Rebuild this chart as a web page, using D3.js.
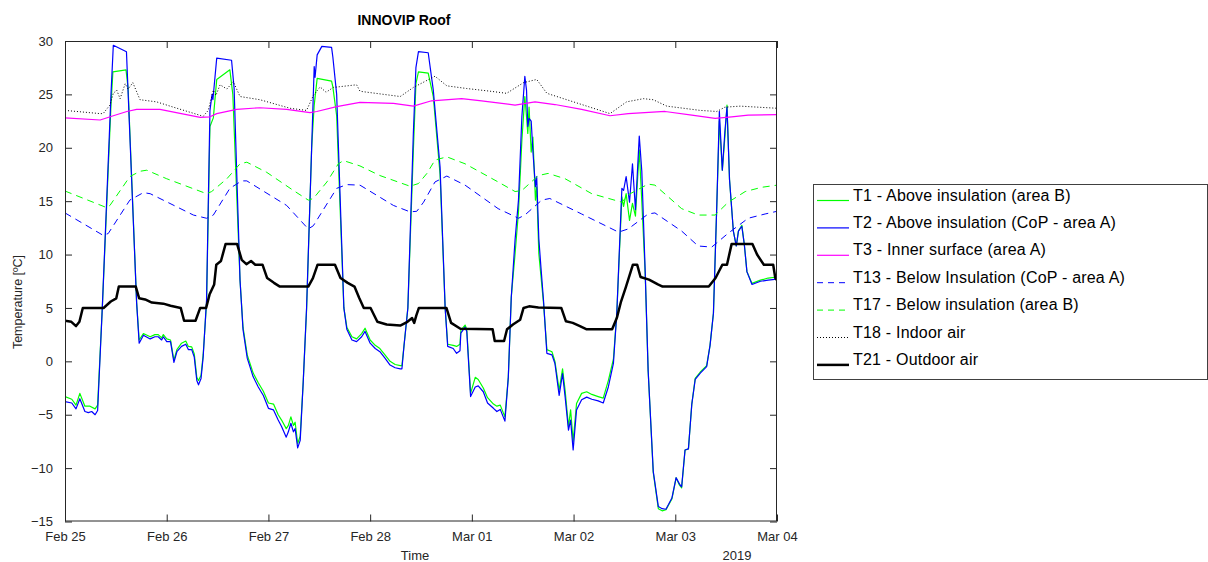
<!DOCTYPE html>
<html>
<head>
<meta charset="utf-8">
<script src="https://cdn.jsdelivr.net/npm/d3@7"></script>
<style>
  html, body { margin: 0; padding: 0; background: #fff; }
  svg { display: block; font-family: Arial, "Liberation Sans", Helvetica, sans-serif; }
</style>
</head>
<body>
<div id="chart"></div>
<script>
// ========================
// DATA (hours since Feb 25 2019 00:00, °C)
// ========================
const START = new Date(2019, 1, 25);
const END = new Date(2019, 2, 4);
const yTicks = [-15, -10, -5, 0, 5, 10, 15, 20, 25, 30];

const T1 = [[0,-3.3],[1.6,-3.55],[2.6,-4.1],[3.5,-3.0],[4.7,-4.2],[5.9,-4.2],[7.1,-4.45],[7.7,-4.1],
  [8.8,5],[10.85,24],[11.3,27.1],[14.4,27.3],[14.9,25.5],[16.9,5.5],[17.5,2.0],
  [18.5,2.6],[20.1,2.3],[21.2,2.5],[22.0,2.5],[22.8,2.2],[23.2,2.5],[24.0,2.1],[24.9,2.0],[25.7,0.1],[26.4,1.1],[27.5,1.7],[28.5,1.9],[29.1,1.4],[29.9,1.35],[30.5,0.7],[31.1,-1.5],[31.5,-1.8],[32.1,-1.3],[32.6,0.6],
  [33.4,5.5],[34.2,22],[35.0,22.8],[35.8,26.4],[38.9,27.3],[39.6,25],[41.3,7.6],[42.0,3.2],[43.0,0.6],
  [44.4,-1.1],[45.6,-2.0],[46.8,-2.8],[48.0,-3.9],[49.2,-4.0],[50.3,-5.0],[51.1,-5.5],[52.2,-6.3],[52.7,-6.0],[53.3,-5.2],[53.9,-6.0],[54.3,-5.7],[54.9,-7.7],[55.5,-7.0],
  [56.2,-2],[57.0,4.8],[58.2,20],[58.8,24],[59.5,26.5],[62.9,26.25],[63.2,25.7],[64.1,23],[65.8,5],[66.5,3.2],
  [67.7,2.3],[68.8,2.1],[70.0,2.6],[70.8,3.1],[72.0,2.0],[73.2,1.5],[74.3,1.2],[75.5,0.6],[76.7,0],[77.9,-0.3],[79.1,-0.4],[79.5,-0.4],
  [80.0,1.5],[80.9,5],[82.2,19.8],[82.8,26],[83.4,27.1],[85.7,27.0],[86.9,24.8],[88.5,17.5],[89.7,5],[90.3,1.6],
  [91.6,1.5],[92.4,1.4],[93.2,1.6],[93.4,2.9],[94.4,3.4],[94.8,3.0],[95.7,-3.0],[96.8,-1.5],[97.5,-1.7],[98.7,-2.5],[99.7,-3.4],[101.1,-4.0],[101.9,-4.2],[102.7,-4.1],[103.8,-5.2],
  [104.6,-1.5],[105.3,6],[106.2,10.1],[107.0,14],[107.8,20.7],[108.5,24.8],[108.9,22.9],[109.2,21.35],[109.5,23.8],[110.0,19.6],[110.4,21],[111.0,15.1],[111.3,16.35],[111.8,10.1],[112.3,8],[112.9,5.5],[113.7,1.1],
  [114.9,0.9],[115.6,0],[116.6,-2.7],[117.4,-0.7],[118.0,-2.7],[118.8,-6.1],[119.3,-4.55],[119.9,-7.5],[120.7,-3.95],[121.9,-3.0],[123.1,-2.85],[124.3,-3.1],[125.8,-3.3],[127.0,-3.45],[128.2,-1.8],[129.4,0.2],
  [130.2,4.5],[130.6,8.2],[131.4,15.4],[131.8,14.5],[132.4,15.7],[133.2,13.2],[133.9,14.8],[134.6,13.6],[135.5,19.8],[136.1,15],[136.9,8.2],[137.6,-0.9],[138.8,-10.4],[140.0,-13.8],[140.9,-14.0],[141.8,-13.9],[143.2,-12.9],[144.2,-10.9],[145.0,-11.6],[145.5,-11.85],[146.3,-8.3],[147.1,-8.2],[147.9,-4.0],[148.7,-1.6],[149.9,-1.0],[151.4,-0.4],[152.2,1.5],[153.0,4.5],[153.8,14.7],[154.4,22.5],[155.1,17.9],[155.7,21],[156.2,24.0],[156.8,17],[157.7,12.2],[158.4,10.8],[158.9,12.2],[159.7,12.75],[160.3,10.9],[160.9,8.4],[162.1,7.3],[164.1,7.6],[165.9,7.8],[168,7.9]];

const T2 = [[0,-3.77],[1.6,-3.9],[2.6,-4.45],[3.5,-3.5],[4.7,-4.7],[5.5,-4.8],[6.3,-4.7],[7.1,-5.0],[7.7,-4.6],
  [8.8,5],[10.85,25],[11.4,29.6],[14.5,29.0],[16.9,5.5],[17.5,1.7],
  [18.5,2.45],[20.1,2.1],[21.2,2.3],[22.0,2.3],[22.8,2.0],[23.2,2.3],[24.0,1.85],[24.9,1.85],[25.7,-0.1],[26.4,0.9],[27.5,1.4],[28.5,1.6],[29.1,1.1],[29.9,1.1],[30.5,0.4],[31.1,-1.8],[31.5,-2.2],[32.1,-1.6],[32.6,0.4],
  [33.4,5.75],[34.2,23.5],[34.7,25],[34.9,24.5],[35.8,28.4],[39.3,28.2],[39.9,25.6],[41.3,7.6],[42.0,3],[43.0,0.3],
  [44.4,-1.45],[45.6,-2.4],[46.8,-3.2],[48.0,-4.4],[49.2,-4.55],[50.3,-5.5],[51.1,-6.1],[52.2,-7.1],[52.7,-6.6],[53.3,-5.8],[53.9,-6.6],[54.3,-6.3],[54.9,-8.1],[55.5,-7.4],
  [56.2,-2],[57.0,5],[58.2,20],[58.8,27.6],[59.0,26.6],[59.5,28.7],[60.6,29.5],[62.9,29.4],[63.2,28.5],[64.1,25],[65.8,5],[66.5,3.0],
  [67.7,2.0],[68.8,1.85],[70.0,2.3],[70.8,2.8],[72.0,1.7],[73.2,1.2],[74.3,0.9],[75.5,0.3],[76.7,-0.35],[77.9,-0.6],[79.1,-0.7],[79.5,-0.7],
  [80.0,1.5],[80.9,5],[82.2,21.4],[82.8,27.5],[83.4,29.0],[85.7,28.9],[86.9,25.4],[88.5,18.2],[89.7,5],[90.3,1.4],
  [91.6,1.2],[92.4,0.75],[93.2,1.0],[93.4,2.65],[94.4,3.2],[94.8,2.8],[95.7,-3.3],[96.8,-2.4],[97.5,-2.3],[98.7,-2.85],[99.7,-3.9],[101.1,-4.4],[101.9,-4.7],[102.7,-4.5],[103.8,-5.6],
  [104.6,-1.5],[105.3,6],[106.2,11.4],[107.0,15.1],[107.8,22.9],[108.5,26.7],[108.9,25.4],[109.2,22],[109.5,22.75],[110.0,22.5],[110.4,19.7],[111.0,16.35],[111.3,17.3],[111.8,11.5],[112.3,8.8],[112.9,5.75],[113.7,0.75],
  [114.9,0.6],[115.6,-0.2],[116.6,-3.2],[117.4,-1.15],[118.0,-3.3],[118.8,-6.45],[119.3,-5.5],[119.9,-8.3],[120.7,-4.55],[121.9,-3.6],[123.1,-3.35],[124.3,-3.55],[125.8,-3.7],[127.0,-3.9],[128.2,-2.4],[129.4,-0.2],
  [130.2,4.5],[130.6,8.4],[131.4,16.2],[131.8,16.0],[132.4,17.3],[133.2,14.9],[133.9,18.5],[134.6,14.2],[135.5,21.1],[136.1,17.8],[136.9,8.4],[137.6,-0.9],[138.8,-10.3],[140.0,-13.6],[140.9,-13.8],[141.8,-13.85],[143.2,-12.8],[144.2,-10.9],[145.0,-11.5],[145.5,-11.75],[146.3,-8.3],[147.1,-8.2],[147.9,-4.0],[148.7,-1.7],[149.9,-1.1],[151.4,-0.5],[152.2,1.5],[153.0,4.5],[153.8,14.7],[154.4,23.4],[155.1,17.9],[155.7,21.5],[156.2,23.8],[156.8,17],[157.7,12.2],[158.4,10.8],[158.9,12.2],[159.7,12.65],[160.3,10.9],[160.9,8.4],[162.1,7.2],[164.1,7.5],[165.9,7.6],[168,7.7]];

const T3 = [[0,22.8],[8.3,22.6],[11.4,23.0],[14.6,23.4],[16.9,23.6],[22.4,23.6],[31.9,22.85],[34.2,22.9],[35.8,23.2],[40.5,23.6],[46.0,23.75],[52.3,23.6],[57.8,23.3],[59.4,23.4],[64.1,23.85],[69.6,24.25],[77.5,24.15],[82.2,23.9],[86.5,24.4],[93.6,24.6],[98.3,24.4],[106.2,24.0],[110.9,24.3],[115.6,24.05],[121.9,23.6],[128.6,23.0],[132.9,23.2],[141.6,23.4],[147.9,23.05],[153.4,22.75],[157.3,22.9],[161.2,23.05],[168,23.1]];

const T13 = [[0,13.9],[9.0,11.8],[10.2,11.97],[15.3,15.1],[18.5,15.8],[20.1,15.7],[30.3,13.7],[33.4,13.4],[35.0,13.7],[38.9,16.2],[41.7,16.9],[42.9,16.9],[52.3,14.6],[57.4,12.4],[58.6,12.7],[64.1,16.2],[66.5,16.55],[69.6,16.5],[77.5,14.6],[81.4,14.0],[83.0,14.05],[84.6,14.9],[87.3,16.8],[90.1,17.35],[94.4,16.5],[102.2,14.3],[107.0,13.4],[108.5,13.7],[112.5,15.1],[114.4,15.25],[121.9,13.8],[130.6,12.1],[132.9,12.4],[137.6,13.8],[139.2,13.9],[145.5,12.2],[149.4,10.8],[152.6,10.7],[156.5,12.0],[161.2,13.4],[165.2,13.8],[168,14.05]];

const T17 = [[0,15.95],[9.8,14.4],[10.6,14.6],[15.3,17.3],[17.7,17.8],[19.3,17.9],[24.0,17.1],[33.4,15.7],[34.6,15.9],[38.2,17.1],[41.3,18.5],[42.9,18.65],[47.6,17.7],[53.9,16.0],[57.4,15.1],[58.6,15.25],[61.8,16.8],[64.5,18.5],[65.7,18.8],[69.6,18.3],[74.3,17.4],[81.4,16.4],[83.4,16.65],[85.4,17.6],[87.3,18.85],[90.1,19.15],[94.4,18.5],[102.2,16.8],[106.2,15.9],[107.8,16.0],[111.7,17.4],[114.0,17.6],[118.0,17.1],[124.3,15.7],[131.4,14.9],[132.9,15.6],[137.6,16.6],[139.2,16.5],[145.5,14.3],[149.4,13.7],[153.4,13.7],[156.5,14.9],[160.5,15.9],[164.4,16.3],[168,16.5]];

const T18 = [[0,23.5],[8.3,23.2],[9.0,23.2],[10.6,24.0],[11.4,25.1],[12.2,25.4],[13.0,24.6],[14.2,26.0],[14.9,25.5],[16.0,26.1],[17.7,24.5],[21.6,24.3],[25.6,23.8],[32.6,22.95],[33.8,23.5],[35.0,25.4],[35.6,24.9],[36.6,25.9],[38.2,25.5],[39.7,26.2],[41.3,24.8],[46.0,24.5],[53.1,23.7],[57.0,23.5],[58.6,24.9],[60.2,25.7],[61.6,25.2],[63.3,25.65],[68.8,25.9],[69.6,25.3],[70.4,25.25],[79.1,24.8],[82.2,25.65],[87.3,26.7],[90.1,25.8],[94.8,25.55],[100.3,25.3],[104.2,25.1],[108.2,26.1],[111.3,26.4],[113.7,25.1],[118.4,24.5],[128.6,23.2],[132.5,24.3],[136.5,24.6],[138.8,24.5],[142.0,23.9],[149.9,23.5],[153.8,23.4],[155.7,23.8],[159.3,23.9],[168,23.7]];

const T21 = [[0,3.8],[1.5,3.7],[2.6,3.3],[3.4,3.7],[4.2,5.0],[9.1,5.0],[10.8,5.6],[12.1,5.9],[12.7,7.0],[16.7,7.0],[17.5,5.9],[18.9,5.8],[20.5,5.5],[23.2,5.4],[24.9,5.2],[27.3,5.0],[28.1,3.8],[30.8,3.8],[31.9,5.0],[33.3,5.0],[34.1,6.25],[35.2,7.2],[35.7,9.05],[36.8,9.4],[37.9,11.0],[40.6,11.0],[41.7,9.5],[42.8,9.1],[43.9,9.4],[44.9,9.05],[46.6,9.05],[47.7,7.8],[49.3,7.35],[50.7,7.0],[57.4,7.0],[58.5,7.8],[59.6,9.05],[63.7,9.05],[65.0,7.8],[66.7,7.35],[68.3,7.0],[69.4,5.95],[70.5,5.0],[72.1,5.0],[73.7,3.7],[75.9,3.45],[79.1,3.35],[80.8,3.7],[81.9,4.05],[82.4,3.6],[82.9,4.3],[83.5,5.0],[90.0,5.0],[91.1,3.6],[93.3,3.05],[100.9,3.0],[101.4,1.9],[103.6,1.9],[104.3,3.0],[105.7,3.45],[107.4,3.9],[108.2,5.0],[109.5,5.15],[111.7,5.05],[117.1,5.0],[118.2,3.75],[119.8,3.6],[121.5,3.3],[123.1,3.0],[129.1,3.0],[130.2,4.05],[131.2,5.6],[132.3,6.9],[134.0,9.05],[135.0,9.05],[135.8,7.9],[137.8,7.65],[139.9,7.2],[141.0,7.0],[151.9,7.0],[153.5,7.8],[155.1,9.05],[156.2,9.05],[157.3,11.0],[162.2,11.0],[163.3,10.0],[164.9,9.05],[167.1,9.05],[167.6,7.8],[168,7.6]];

const seriesNames = [
  "T1 - Above insulation (area B)",
  "T2 - Above insulation (CoP - area A)",
  "T3 - Inner surface (area A)",
  "T13 - Below Insulation (CoP - area A)",
  "T17 - Below insulation (area B)",
  "T18 - Indoor air",
  "T21 - Outdoor air"
];
const seriesData = [T1, T2, T3, T13, T17, T18, T21];

// line styles, same order as the legend
const seriesStyle = [
  { color: "#00ff00", width: 1.2, dash: null },
  { color: "#0000ff", width: 1.2, dash: null },
  { color: "#ff00ff", width: 1.2, dash: null },
  { color: "#0000ff", width: 1, dash: "7,5" },
  { color: "#00ff00", width: 1, dash: "7,5" },
  { color: "#000000", width: 1, dash: "1,2" },
  { color: "#000000", width: 2.5, dash: null }
];

// ========================
// CHART
// ========================
const W = 1208, H = 562;
const plot = { left: 65, right: 777, top: 41, bottom: 521.5 };
const axisColor = "#262626";

const svg = d3.select("#chart").append("svg")
  .attr("width", W)
  .attr("height", H);

const x = d3.scaleTime().domain([START, END]).range([plot.left, plot.right]);
const y = d3.scaleLinear().domain([-15, 30]).range([plot.bottom, plot.top]);

const toDate = h => new Date(START.getTime() + h * 3600e3);

svg.append("defs").append("clipPath").attr("id", "plotClip")
  .append("rect")
  .attr("x", plot.left).attr("y", plot.top)
  .attr("width", plot.right - plot.left)
  .attr("height", plot.bottom - plot.top);

// lines
const line = d3.line()
  .x(d => x(toDate(d[0])))
  .y(d => y(d[1]));

const gLines = svg.append("g").attr("clip-path", "url(#plotClip)");
seriesData.forEach((data, i) => {
  const st = seriesStyle[i];
  gLines.append("path")
    .datum(data)
    .attr("d", line)
    .attr("fill", "none")
    .attr("stroke", st.color)
    .attr("stroke-width", st.width)
    .attr("stroke-dasharray", st.dash)
    .attr("stroke-linejoin", "round");
});

// axes (ticks inside, like matlab)
const dayTicks = d3.timeDay.range(START, d3.timeDay.offset(END, 1));

const xAxis = d3.axisBottom(x)
  .tickValues(dayTicks)
  .tickFormat(d3.timeFormat("%b %d"))
  .tickSizeInner(-7).tickSizeOuter(0).tickPadding(10);
const xTop = d3.axisTop(x)
  .tickValues(dayTicks).tickFormat("")
  .tickSizeInner(-7).tickSizeOuter(0);
const yAxis = d3.axisLeft(y)
  .tickValues(yTicks)
  .tickSizeInner(-7).tickSizeOuter(0).tickPadding(12);
const yRight = d3.axisRight(y)
  .tickValues(yTicks).tickFormat("")
  .tickSizeInner(-7).tickSizeOuter(0);

function styleAxis(g) {
  g.select(".domain").remove();
  g.selectAll(".tick line").attr("stroke", axisColor);
  g.selectAll(".tick text")
    .attr("fill", axisColor)
    .attr("font-size", "13px")
    .attr("font-family", "Arial, 'Liberation Sans', Helvetica, sans-serif");
}

svg.append("g").attr("transform", `translate(0,${plot.bottom})`).call(xAxis).call(styleAxis);
svg.append("g").attr("transform", `translate(0,${plot.top})`).call(xTop).call(styleAxis);
svg.append("g").attr("transform", `translate(${plot.left},0)`).call(yAxis).call(styleAxis);
svg.append("g").attr("transform", `translate(${plot.right},0)`).call(yRight).call(styleAxis);

svg.append("rect")
  .attr("x", plot.left + 0.5).attr("y", plot.top + 0.5)
  .attr("width", plot.right - plot.left - 1)
  .attr("height", plot.bottom - plot.top - 1)
  .attr("fill", "none")
  .attr("stroke", axisColor)
  .attr("stroke-width", 1);

// titles and labels
svg.append("text")
  .attr("x", 404).attr("y", 25)
  .attr("text-anchor", "middle")
  .attr("font-size", "14px")
  .attr("font-weight", "bold")
  .attr("fill", "#000")
  .text("INNOVIP Roof");

svg.append("text")
  .attr("x", 415).attr("y", 560)
  .attr("text-anchor", "middle")
  .attr("font-size", "13px")
  .attr("fill", axisColor)
  .text("Time");

svg.append("text")
  .attr("x", 737).attr("y", 560)
  .attr("text-anchor", "middle")
  .attr("font-size", "13px")
  .attr("fill", axisColor)
  .text("2019");

svg.append("text")
  .attr("transform", "translate(22,302) rotate(-90)")
  .attr("text-anchor", "middle")
  .attr("font-size", "12.5px")
  .attr("fill", axisColor)
  .text("Temperature [ºC]");

// ========================
// LEGEND
// ========================
const legend = svg.append("g");
legend.append("rect")
  .attr("x", 813.5).attr("y", 184.5)
  .attr("width", 394).attr("height", 195)
  .attr("fill", "#fff")
  .attr("stroke", "#404040")
  .attr("stroke-width", 1);

seriesNames.forEach((name, i) => {
  const st = seriesStyle[i];
  const by = 200.5 + i * 27.4;
  legend.append("line")
    .attr("x1", 817).attr("x2", 849)
    .attr("y1", by).attr("y2", by)
    .attr("stroke", st.color)
    .attr("stroke-width", st.width)
    .attr("stroke-dasharray", st.dash === "7,5" ? "6,5" : st.dash);
  legend.append("text")
    .attr("x", 853).attr("y", by)
    .attr("font-size", "16px")
    .attr("letter-spacing", "0.2px")
    .attr("fill", "#000")
    .text(name);
});
</script>
</body>
</html>
